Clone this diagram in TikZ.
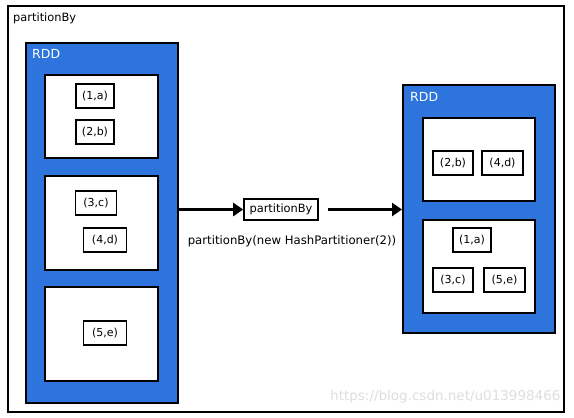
\documentclass[tikz,border=0pt]{standalone}
\usepackage{fontspec}
\setmainfont{DejaVu Sans}
\usetikzlibrary{arrows.meta}
\definecolor{rddblue}{RGB}{45,116,220}
\definecolor{wm}{RGB}{222,222,222}
\tikzset{
  frame/.style={draw=black, line width=1.6pt, fill=white, anchor=north west, inner sep=0pt},
  rdd/.style={draw=black, line width=1.6pt, fill=rddblue, anchor=north west, inner sep=0pt},
  part/.style={draw=black, line width=1.6pt, fill=white, anchor=north west, inner sep=0pt},
  item/.style={draw=black, line width=1.6pt, fill=white, minimum width=38pt, minimum height=24pt, inner sep=0pt, font=\fontsize{11}{13}\selectfont},
  lbl/.style={font=\fontsize{11.4}{13}\selectfont, inner sep=0pt},
  rddlbl/.style={font=\fontsize{12.5}{14}\selectfont, inner sep=0pt, anchor=west, text=white},
  bigarrow/.style={line width=2.8pt, -{Triangle[length=10pt,width=13pt]}},
}
\begin{document}
\begin{tikzpicture}[x=1pt,y=-1pt]
\useasboundingbox (0,0) rectangle (574,418);
\fill[white] (0,0) rectangle (574,418);
% outer frame
\node[frame, minimum width=556pt, minimum height=406pt] (outer) at (7,5) {};
\node[lbl, anchor=west] (title) at (13,18) {partitionBy};
% left RDD
\node[rdd, minimum width=152pt, minimum height=360pt] (L) at (25,42) {};
\node[rddlbl] (Ltitle) at (32,54) {RDD};
\node[part, minimum width=113pt, minimum height=83pt] (LP1) at (44,74) {};
\node[part, minimum width=113pt, minimum height=94pt] (LP2) at (44,175) {};
\node[part, minimum width=113pt, minimum height=94pt] (LP3) at (44,286) {};
\node[item] (l1) at (95,96) {(1,a)};
\node[item] (l2) at (95,132) {(2,b)};
\node[item, minimum width=41pt] (l3) at (96,203) {(3,c)};
\node[item, minimum width=43pt] (l4) at (105,240) {(4,d)};
\node[item, minimum width=43pt] (l5) at (105,333) {(5,e)};
% middle
\node[draw=black, line width=1.6pt, fill=white, minimum width=74pt, minimum height=21pt, inner sep=0pt, font=\fontsize{11.4}{13}\selectfont] (op) at (281,209.5) {partitionBy};
\node[font=\fontsize{11.7}{13}\selectfont, inner sep=0pt] (oplabel) at (292,241) {partitionBy(new HashPartitioner(2))};
% right RDD
\node[rdd, minimum width=152pt, minimum height=248pt] (R) at (402,84) {};
\node[rddlbl] (Rtitle) at (410,97) {RDD};
\node[part, minimum width=112pt, minimum height=83pt] (RP1) at (422,117) {};
\node[part, minimum width=112pt, minimum height=93pt] (RP2) at (422,219) {};
\node[item, minimum width=40pt] (r2) at (453,163) {(2,b)};
\node[item, minimum width=41pt] (r4) at (502.5,163) {(4,d)};
\node[item] (r1) at (472,240) {(1,a)};
\node[item, minimum width=40pt] (r3) at (453,280) {(3,c)};
\node[item, minimum width=41pt] (r5) at (504.5,280) {(5,e)};
% arrows
\coordinate (a1s) at (L.east |- op.west);
\draw[bigarrow] (a1s) -- (op.west);
\coordinate (a2s) at ([xshift=9pt]op.east);
\draw[bigarrow] (a2s) -- (R.west |- op.east);
% watermark
\node[font=\fontsize{13.5}{15}\selectfont, text=wm, inner sep=0pt, anchor=west] (wmark) at (330,397) {https://blog.csdn.net/u013998466};
\end{tikzpicture}
\end{document}
